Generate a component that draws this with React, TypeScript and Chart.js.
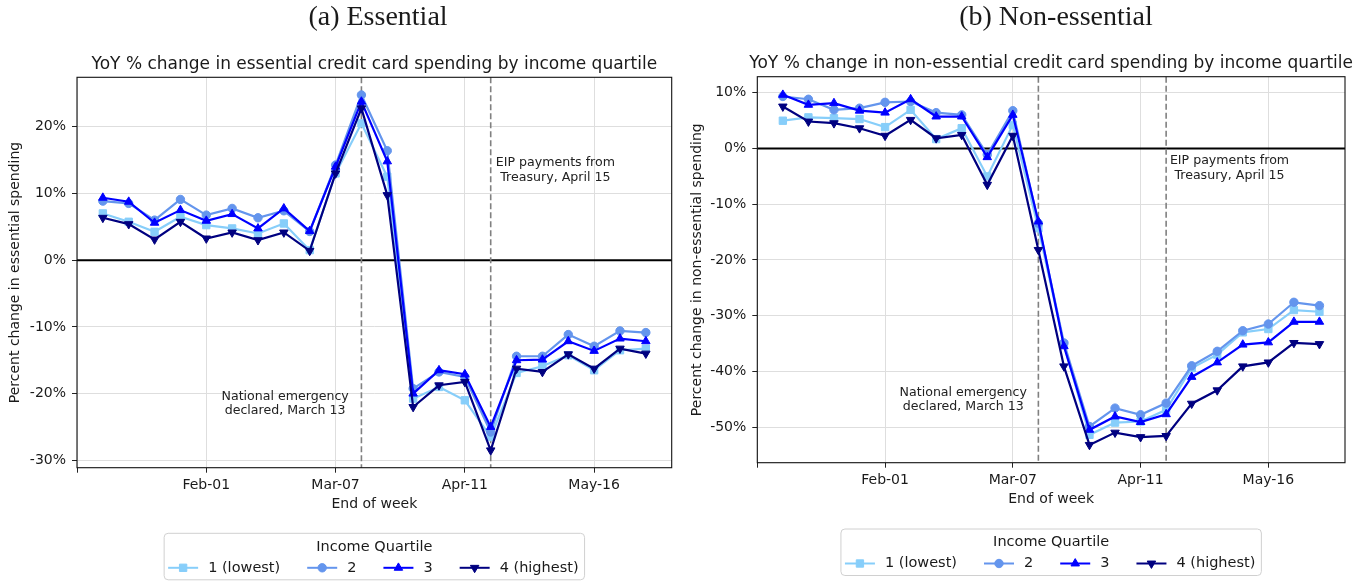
import React, { useEffect, useRef } from 'react';
import { Chart, registerables } from 'chart.js';

Chart.register(...registerables);

// ---------- data ----------
// weeks ending Jan-04 ... May-30 (index 0..21)
const weekIndex = [0, 1, 2, 3, 4, 5, 6, 7, 8, 9, 10, 11, 12, 13, 14, 15, 16, 17, 18, 19, 20, 21];
const xTickValues = [-1, 4, 9, 14, 19];
const xTickLabels = ['', 'Feb-01', 'Mar-07', 'Apr-11', 'May-16'];
const eventWeeks = [10, 15];

const quartileLabels = ['1 (lowest)', '2', '3', '4 (highest)'];

const essentialQ1 = [7.0, 5.75, 4.25, 6.5, 5.25, 4.75, 4.0, 5.5, 1.5, 13.0, 20.5, 12.5, -20.75, -19.0, -21.0, -26.5, -16.9, -15.9, -14.25, -16.5, -13.5, -13.25];
const essentialQ2 = [8.85, 8.5, 6.0, 9.1, 6.75, 7.75, 6.35, 7.4, 4.3, 14.25, 24.75, 16.4, -19.25, -16.75, -17.5, -25.75, -14.4, -14.4, -11.15, -12.9, -10.6, -10.85];
const essentialQ3 = [9.35, 8.75, 5.6, 7.5, 5.9, 6.9, 4.75, 7.75, 4.35, 14.0, 23.75, 14.8, -20.0, -16.5, -17.1, -25.0, -15.0, -14.9, -12.15, -13.6, -11.75, -12.15];
const essentialQ4 = [6.35, 5.4, 3.1, 5.75, 3.25, 4.15, 3.0, 4.15, 1.4, 13.0, 22.75, 9.75, -22.0, -18.75, -18.25, -28.5, -16.25, -16.75, -14.1, -16.25, -13.25, -14.0];
const essentialYTicks = [-30, -20, -10, 0, 10, 20];

const nonEssentialQ1 = [5.0, 5.6, 5.45, 5.3, 3.85, 6.95, 1.7, 3.65, -5.0, 4.25, -14.3, -35.2, -51.4, -49.2, -49.0, -46.9, -39.4, -37.0, -33.0, -32.4, -29.0, -29.3];
const nonEssentialQ2 = [9.35, 8.85, 6.95, 7.25, 8.3, 8.45, 6.45, 6.05, -1.1, 6.8, -13.4, -34.9, -49.9, -46.6, -47.8, -45.7, -39.0, -36.4, -32.7, -31.5, -27.6, -28.2];
const nonEssentialQ3 = [9.65, 7.85, 8.15, 6.8, 6.45, 8.85, 5.75, 5.75, -1.55, 6.05, -13.1, -35.5, -50.5, -48.1, -49.1, -47.7, -41.0, -38.4, -35.2, -34.8, -31.1, -31.1];
const nonEssentialQ4 = [7.55, 4.85, 4.55, 3.65, 2.3, 5.15, 1.85, 2.45, -6.5, 2.3, -18.2, -39.1, -53.2, -51.0, -51.8, -51.6, -45.8, -43.4, -39.1, -38.4, -34.9, -35.1];
const nonEssentialYTicks = [-50, -40, -30, -20, -10, 0, 10];

const emergencyNote = ['National emergency', 'declared, March 13'];
const eipNote = ['EIP payments from', 'Treasury, April 15'];

// ---------- styles ----------
const quartileColors = ['#87CEFA', '#6495ED', '#0000FF', '#000080'];
const quartileMarkers = ['rect', 'circle', 'triangle', 'triangle'];
const quartileRotation = [0, 0, 0, 180];
const quartileRadius = [5.2, 4.2, 4.9, 4.9];

const SANS = "'DejaVu Sans', 'Noto Sans', sans-serif";
const SERIF = "'Liberation Serif', 'DejaVu Serif', serif";
const TEXT = '#1a1a1a';
const W = 682;
const H = 581;
const X_AXIS_H = 50;

type Panel = {
  panelTitle: string;
  plotTitle: string;
  yTitle: string;
  series: number[][];
  yMin: number;
  yMax: number;
  yTicks: number[];
  area: { left: number; top: number; right: number; bottom: number };
  panelTitleX: number;
  legendTop: number;
  notes: { lines: string[]; x: number; y: number }[];
};

const panels: Panel[] = [
  {
    panelTitle: '(a) Essential',
    plotTitle: 'YoY % change in essential credit card spending by income quartile',
    yTitle: 'Percent change in essential spending',
    series: [essentialQ1, essentialQ2, essentialQ3, essentialQ4],
    yMin: -31.1,
    yMax: 27.4,
    yTicks: essentialYTicks,
    area: { left: 77, top: 77.3, right: 671.7, bottom: 467.7 },
    panelTitleX: 378,
    legendTop: 533.3,
    notes: [
      { lines: emergencyNote, x: 7.05, y: -21.5 },
      { lines: eipNote, x: 17.5, y: 13.5 },
    ],
  },
  {
    panelTitle: '(b) Non-essential',
    plotTitle: 'YoY % change in non-essential credit card spending by income quartile',
    yTitle: 'Percent change in non-essential spending',
    series: [nonEssentialQ1, nonEssentialQ2, nonEssentialQ3, nonEssentialQ4],
    yMin: -56.4,
    yMax: 12.9,
    yTicks: nonEssentialYTicks,
    area: { left: 75.3, top: 76.7, right: 663, bottom: 462.7 },
    panelTitleX: 374,
    legendTop: 529,
    notes: [
      { lines: emergencyNote, x: 7.06, y: -45.1 },
      { lines: eipNote, x: 17.48, y: -3.5 },
    ],
  },
];

function drawMarker(ctx: CanvasRenderingContext2D, style: string, rot: number, r: number, x: number, y: number) {
  ctx.beginPath();
  if (style === 'rect') {
    const s = Math.SQRT1_2 * r;
    ctx.rect(x - s, y - s, 2 * s, 2 * s);
  } else if (style === 'circle') {
    ctx.arc(x, y, r, 0, Math.PI * 2);
  } else {
    let rad = (rot * Math.PI) / 180;
    ctx.moveTo(x + Math.sin(rad) * r, y - Math.cos(rad) * r);
    rad += (2 * Math.PI) / 3;
    ctx.lineTo(x + Math.sin(rad) * r, y - Math.cos(rad) * r);
    rad += (2 * Math.PI) / 3;
    ctx.lineTo(x + Math.sin(rad) * r, y - Math.cos(rad) * r);
    ctx.closePath();
  }
  ctx.fill();
  ctx.stroke();
}

const decorPlugin = {
  id: 'panelDecor',
  beforeDatasetsDraw(chart: any, _args: any, opts: any) {
    const { ctx, chartArea: a, scales } = chart;
    const x = scales.x;
    const y = scales.y;
    ctx.save();
    const y0 = y.getPixelForValue(0);
    ctx.strokeStyle = '#000';
    ctx.lineWidth = 2;
    ctx.beginPath();
    ctx.moveTo(a.left, y0);
    ctx.lineTo(a.right, y0);
    ctx.stroke();
    ctx.strokeStyle = '#808080';
    ctx.lineWidth = 1.6;
    ctx.setLineDash([6, 3]);
    for (const w of eventWeeks) {
      const px = x.getPixelForValue(w);
      ctx.beginPath();
      ctx.moveTo(px, a.top);
      ctx.lineTo(px, a.bottom);
      ctx.stroke();
    }
    ctx.restore();
  },
  afterDraw(chart: any, _args: any, opts: any) {
    const { ctx, chartArea: a, scales } = chart;
    const p: Panel = opts.panel;
    const x = scales.x;
    const y = scales.y;
    ctx.save();
    // frame
    ctx.strokeStyle = '#111';
    ctx.lineWidth = 1.1;
    ctx.strokeRect(a.left, a.top, a.right - a.left, a.bottom - a.top);

    ctx.fillStyle = TEXT;
    ctx.textAlign = 'center';
    ctx.textBaseline = 'middle';
    // panel title
    ctx.font = `28px ${SERIF}`;
    ctx.fillText(p.panelTitle, p.panelTitleX, 18);
    // plot title
    ctx.font = `17px ${SANS}`;
    ctx.fillText(p.plotTitle, (a.left + a.right) / 2, a.top - 13);
    // x title
    ctx.font = `14px ${SANS}`;
    ctx.fillText('End of week', (a.left + a.right) / 2, a.bottom + 36.5);
    // y title
    ctx.save();
    ctx.translate(15, (a.top + a.bottom) / 2);
    ctx.rotate(-Math.PI / 2);
    ctx.fillText(p.yTitle, 0, 0);
    ctx.restore();
    // notes
    ctx.font = `12.6px ${SANS}`;
    ctx.fillStyle = '#222';
    for (const n of p.notes) {
      const cx = x.getPixelForValue(n.x);
      const cy = y.getPixelForValue(n.y);
      const lh = 14.7;
      n.lines.forEach((t, i) => {
        ctx.fillText(t, cx, cy + (i - (n.lines.length - 1) / 2) * lh);
      });
    }
    // legend
    ctx.font = `14.5px ${SANS}`;
    const widths = quartileLabels.map((l) => ctx.measureText(l).width);
    const handle = 30;
    const textGap = 40;
    const colGap = 27;
    let total = 4;
    widths.forEach((w, i) => {
      total += textGap + w + (i < widths.length - 1 ? colGap : 0);
    });
    total += 6;
    const cxL = (a.left + a.right) / 2;
    const bl = cxL - total / 2;
    const bt = p.legendTop;
    const bh = 46.5;
    ctx.beginPath();
    const rr = 4;
    ctx.moveTo(bl + rr, bt);
    ctx.lineTo(bl + total - rr, bt);
    ctx.arcTo(bl + total, bt, bl + total, bt + rr, rr);
    ctx.lineTo(bl + total, bt + bh - rr);
    ctx.arcTo(bl + total, bt + bh, bl + total - rr, bt + bh, rr);
    ctx.lineTo(bl + rr, bt + bh);
    ctx.arcTo(bl, bt + bh, bl, bt + bh - rr, rr);
    ctx.lineTo(bl, bt + rr);
    ctx.arcTo(bl, bt, bl + rr, bt, rr);
    ctx.closePath();
    ctx.fillStyle = 'rgba(255,255,255,0.85)';
    ctx.fill();
    ctx.strokeStyle = '#d0d0d0';
    ctx.lineWidth = 1;
    ctx.stroke();

    ctx.fillStyle = TEXT;
    ctx.textAlign = 'center';
    ctx.fillText('Income Quartile', cxL, bt + 13.5);
    let ex = bl + 4;
    const ey = bt + 34.5;
    quartileLabels.forEach((lab, i) => {
      ctx.strokeStyle = quartileColors[i];
      ctx.fillStyle = quartileColors[i];
      ctx.lineWidth = 2;
      ctx.beginPath();
      ctx.moveTo(ex, ey);
      ctx.lineTo(ex + handle, ey);
      ctx.stroke();
      ctx.lineWidth = 1;
      drawMarker(ctx, quartileMarkers[i], quartileRotation[i], quartileRadius[i], ex + handle / 2, ey);
      ctx.fillStyle = TEXT;
      ctx.textAlign = 'left';
      ctx.fillText(lab, ex + textGap, ey);
      ex += textGap + widths[i] + colGap;
    });
    ctx.restore();
  },
};

function PanelChart({ panel, left }: { panel: Panel; left: number }) {
  const ref = useRef<HTMLCanvasElement | null>(null);
  useEffect(() => {
    if (!ref.current) return;
    const a = panel.area;
    const chart = new Chart(ref.current, {
      type: 'line',
      data: {
        datasets: panel.series.map((vals, i) => ({
          label: quartileLabels[i],
          data: vals.map((v, j) => ({ x: weekIndex[j], y: v })),
          borderColor: quartileColors[i],
          backgroundColor: quartileColors[i],
          pointStyle: quartileMarkers[i] as any,
          pointRotation: quartileRotation[i],
          pointRadius: quartileRadius[i],
          pointBorderWidth: 1,
          borderWidth: 2.2,
          tension: 0,
          fill: false,
          order: 4 - i,
        })),
      },
      options: {
        responsive: false,
        animation: false,
        devicePixelRatio: 1,
        layout: {
          padding: { left: 0, top: a.top, right: W - a.right, bottom: H - a.bottom - X_AXIS_H },
        },
        plugins: {
          legend: { display: false },
          tooltip: { enabled: false },
          panelDecor: { panel },
        } as any,
        scales: {
          x: {
            type: 'linear',
            min: -1,
            max: 22,
            afterBuildTicks: (s: any) => {
              s.ticks = xTickValues.map((v) => ({ value: v }));
            },
            afterFit: (s: any) => {
              s.height = X_AXIS_H;
            },
            ticks: {
              autoSkip: false,
              maxRotation: 0,
              padding: 4,
              color: TEXT,
              font: { family: SANS, size: 14 },
              callback: (v: any) => {
                const k = xTickValues.indexOf(Number(v));
                return k >= 0 ? xTickLabels[k] : '';
              },
            },
            grid: { color: '#dedede', lineWidth: 1, drawTicks: true, tickLength: 5, tickColor: '#222', tickWidth: 1 },
            border: { display: false },
          },
          y: {
            type: 'linear',
            min: panel.yMin,
            max: panel.yMax,
            afterBuildTicks: (s: any) => {
              s.ticks = panel.yTicks.map((v) => ({ value: v }));
            },
            afterFit: (s: any) => {
              s.width = a.left;
            },
            ticks: {
              padding: 6,
              color: TEXT,
              font: { family: SANS, size: 14 },
              callback: (v: any) => `${v}%`,
            },
            grid: { color: '#dedede', lineWidth: 1, drawTicks: true, tickLength: 5, tickColor: '#222', tickWidth: 1 },
            border: { display: false },
          },
        },
      } as any,
      plugins: [decorPlugin as any],
    });
    return () => chart.destroy();
  }, [panel]);
  return (
    <canvas
      ref={ref}
      width={W}
      height={H}
      style={{ position: 'absolute', left, top: 0, width: W, height: H }}
    />
  );
}

export default function App() {
  return (
    <div style={{ position: 'absolute', left: 0, top: 0, width: 1364, height: 581, background: '#fff', overflow: 'hidden' }}>
      <PanelChart panel={panels[0]} left={0} />
      <PanelChart panel={panels[1]} left={682} />
    </div>
  );
}
